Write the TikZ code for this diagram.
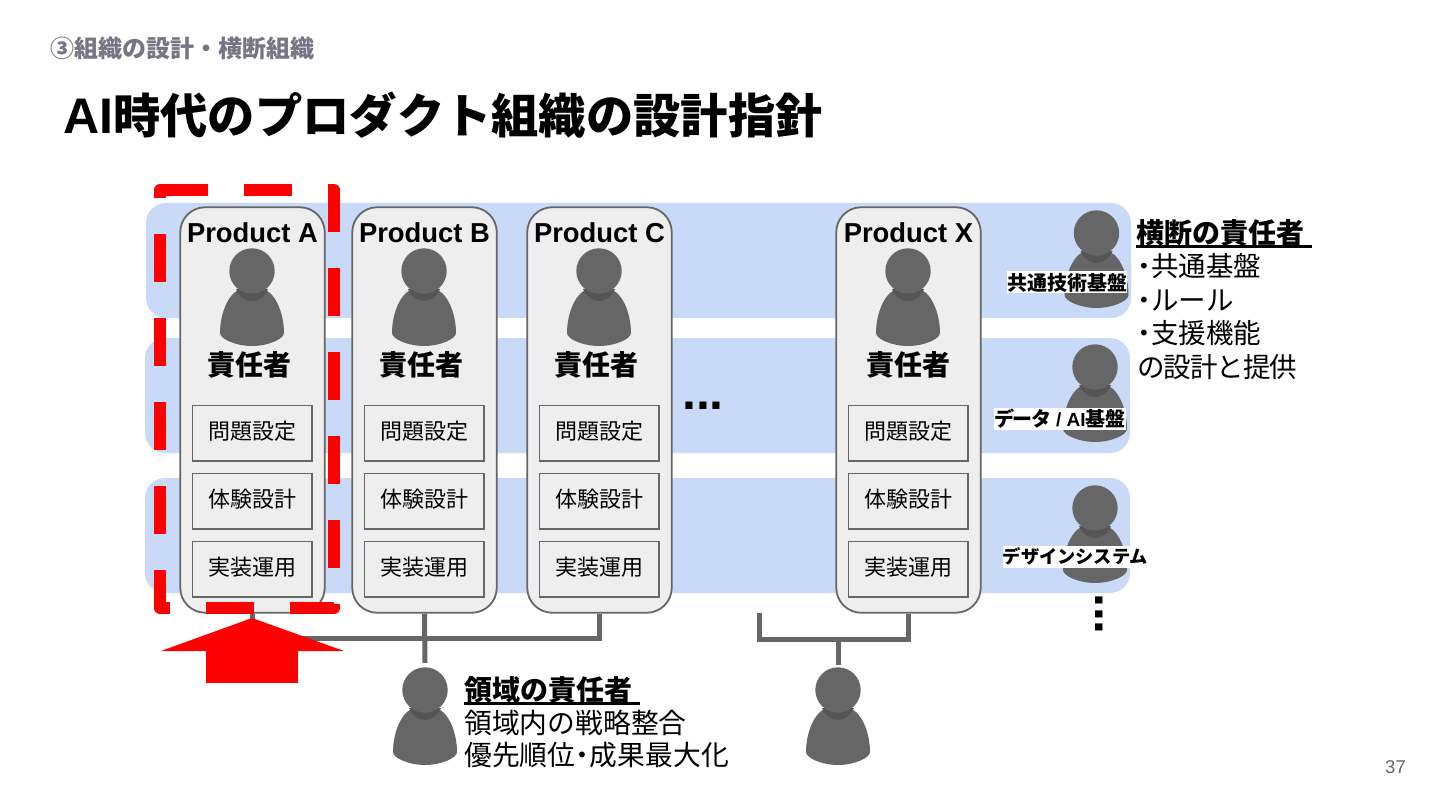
\documentclass[tikz,border=0pt]{standalone}
\usepackage{fontspec}
\setmainfont{Liberation Sans}
\newfontfamily\cjk{Noto Sans CJK JP}
\newcommand{\fsz}[1]{\fontsize{#1}{#1}\selectfont}
\newcommand{\ulhead}[1]{\vtop{\hbox{\cjk\bfseries #1\hspace{8pt}}\kern-0.5pt\hrule height 2.4pt}}
\newcommand{\middot}{{\bfseries･}\kern0.5pt}
\definecolor{bandblue}{HTML}{C9DAF8}
\definecolor{cardgray}{HTML}{EEEEEE}
\definecolor{linegray}{HTML}{666666}
\definecolor{neckgray}{HTML}{555555}
\definecolor{subgray}{HTML}{757585}
\tikzset{
  pics/person/.style={code={
    \fill[linegray] (-14,19) .. controls (-26,26) and (-32,46) .. (-32,62)
      .. controls (-32,68) and (-16,75) .. (0,75)
      .. controls (16,75) and (32,68) .. (32,62)
      .. controls (32,46) and (26,26) .. (14,19) -- cycle;
    \fill[neckgray] (-16,18) .. controls (-9,34) and (9,34) .. (16,18) -- cycle;
    \fill[linegray] (0,0) circle (22.7);
  }}
}
\begin{document}
\begin{tikzpicture}[x=1pt,y=-1pt,
  band/.style={fill=bandblue,rounded corners=20pt,minimum width=985pt,minimum height=115pt,inner sep=0pt},
  card/.style={draw=linegray,line width=1.8pt,fill=cardgray,rounded corners=25pt,minimum width=144.5pt,minimum height=405.5pt,inner sep=0pt},
  task/.style={draw=linegray,line width=1.8pt,fill=cardgray,minimum width=119.2pt,minimum height=55.2pt,inner sep=0pt,text height=19.4pt,text depth=6.6pt,font=\cjk\fsz{22}},
  prodname/.style={inner sep=0pt,font=\bfseries\fsz{27.4}},
  owner/.style={inner sep=0pt,font=\cjk\bfseries\fsz{28}},
  baselabel/.style={fill=white,inner sep=0pt,minimum height=22pt,font=\cjk\bfseries\fsz{20}},
  bigtext/.style={inner sep=0pt,anchor=west,align=left,font=\cjk\fsz{27.5}},
  conn/.style={draw=linegray,line width=5pt},
  dotsnode/.style={inner sep=0pt,font=\bfseries\fsz{50}}]
\useasboundingbox (0,0) rectangle (1440,810);
% Heading
\node[inner sep=0pt,anchor=west,text=subgray,font=\cjk\bfseries\fsz{24}] (kicker) at (50,48) {③組織の設計・横断組織};
\node[inner sep=0pt,anchor=west,font=\bfseries\fsz{47.3}] (title) at (63,115) {{\fsz{50}AI}{\cjk 時代のプロダクト組織の設計指針}};
% Bands
\node[band] (band1) at (638.5,260.5) {};
\node[band] (band2) at (637.5,395.5) {};
\node[band] (band3) at (637.5,535.5) {};
% Connectors
\coordinate (busl) at (425,638);
\coordinate (lead1) at (425,663);
\coordinate (gapx) at (759,613);
\coordinate (busr) at (838,639);
\coordinate (lead2) at (838,665);
% Product A
\begin{scope}
\node[card] (a0) at (252.5,410) {};
\node[prodname] (a1) at (252.5,233) {Product A};
\pic at (252,271) {person};
\node[owner] (a2) at (249.5,365) {責任者};
\node[task] (a3) at (252,433) {問題設定};
\node[task] (a4) at (252,501) {体験設計};
\node[task] (a5) at (252,569) {実装運用};
\end{scope}
% Product B
\begin{scope}[xshift=172pt]
\node[card] (b0) at (252.5,410) {};
\node[prodname] (b1) at (252.5,233) {Product B};
\pic at (252,271) {person};
\node[owner] (b2) at (249.5,365) {責任者};
\node[task] (b3) at (252,433) {問題設定};
\node[task] (b4) at (252,501) {体験設計};
\node[task] (b5) at (252,569) {実装運用};
\end{scope}
% Product C
\begin{scope}[xshift=347pt]
\node[card] (c0) at (252.5,410) {};
\node[prodname] (c1) at (252.5,233) {Product C};
\pic at (252,271) {person};
\node[owner] (c2) at (249.5,365) {責任者};
\node[task] (c3) at (252,433) {問題設定};
\node[task] (c4) at (252,501) {体験設計};
\node[task] (c5) at (252,569) {実装運用};
\end{scope}
% Product X
\begin{scope}[xshift=656pt]
\node[card] (x0) at (252.5,410) {};
\node[prodname] (x1) at (252.5,233) {Product X};
\pic at (252,271) {person};
\node[owner] (x2) at (252.5,365) {責任者};
\node[task] (x3) at (252,433) {問題設定};
\node[task] (x4) at (252,501) {体験設計};
\node[task] (x5) at (252,569) {実装運用};
\end{scope}
\node[dotsnode] (hdots) at (703,406) {...};
\draw[conn] (a0.south) |- (busl) -| (c0.south);
\draw[conn] (b0.south) -- (lead1);
\draw[conn] (gapx) |- (busr) -| (x0.south);
\draw[conn] (busr) -- (lead2);
% Shared owners on the right
\pic at (1096.5,233) {person};
\pic at (1095,367) {person};
\pic at (1095,508) {person};
\node[baselabel,minimum width=120pt] (base1) at (1067,282.5) {共通技術基盤};
\node[baselabel,minimum width=132pt] (base2) at (1060,419) {デ\kern-1.5pt ー\kern-1.5pt タ {\rmfamily\bfseries\fsz{19}/ AI}基盤};
\node[baselabel,minimum width=145pt,font=\cjk\bfseries\fsz{18.2}] (base3) at (1075.5,556.5) {デザインシステム};
\node[dotsnode,rotate=-90] (vdots) at (1099,614) {...};
\node[inner sep=0pt,anchor=west,font=\fsz{28}] (crosshead) at (1136,233.5) {\ulhead{横断の責任者}};
\node[bigtext] (crosslist) at (1137,316.5) {\middot 共通基盤\\[5.9pt]\middot ルール\\[5.9pt]\middot 支援機能\\[5.9pt]の\kern-1pt 設\kern-1pt 計\kern-1pt と\kern-1pt 提\kern-1pt 供};
% Domain owners
\pic at (425,690) {person};
\pic at (838,690) {person};
\node[inner sep=0pt,anchor=west,font=\fsz{28}] (domhead) at (464,690.5) {\ulhead{領域の責任者}};
\node[bigtext,font=\cjk\fsz{27.8}] (domlist) at (464,739) {領域内の戦略整合\\[5pt]優先順位\middot 成果最大化};
\node[inner sep=0pt,text=linegray,font=\fsz{18.5}] (pageno) at (1395.5,767) {37};
% Highlight
\coordinate (hl0) at (184,190);
\coordinate (hl1) at (160,190);
\coordinate (hl2) at (334,608);
\draw[red,line width=12pt,line join=round,dash pattern=on 48pt off 36pt,dash phase=24pt] (hl0) -| (hl2) -| (hl1) -- cycle;
\node[fill=red,inner sep=0pt,minimum width=92pt,minimum height=33pt] (upshaft) at (252,666.5) {};
\fill[red] (252,618) -- (344,651) -- (161,651) -- cycle;
\end{tikzpicture}
\end{document}
